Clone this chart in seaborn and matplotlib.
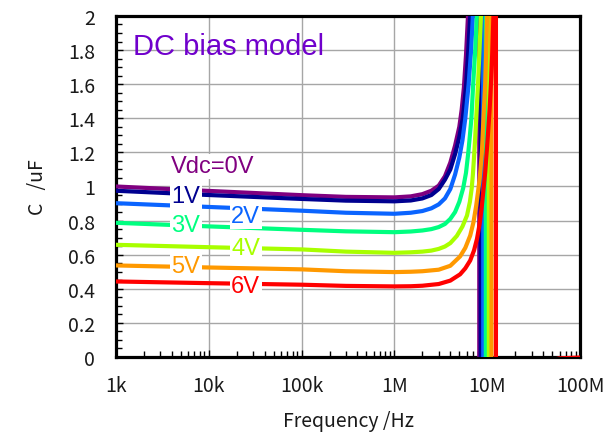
import pandas as pd
import seaborn as sns
import matplotlib.pyplot as plt
from matplotlib.ticker import MultipleLocator, LogLocator, NullFormatter, FuncFormatter

# 바이어스 전압별 곡선 (주파수 Hz, 용량 uF) - 그림에서 읽은 값
bias_labels = ['0V', '1V', '2V', '3V', '4V', '5V', '6V']
line_colors = ['#800080', '#000090', '#0A64FF', '#00FF80', '#A8FF00', '#FF9900', '#FF0000']

f_0v = [1e3, 1e4, 1e5, 3e5, 1e6, 1.5e6, 2e6, 2.5e6, 3e6, 3.5e6, 4e6, 4.5e6, 5e6, 5.3e6, 5.6e6, 5.9e6, 6.2e6, 6.45e6, 8.2e6, 8.2e6, 2e7, 1e8]
c_0v = [1.0, 0.974, 0.949, 0.939, 0.936, 0.942, 0.955, 0.975, 1.005, 1.06, 1.14, 1.24, 1.35, 1.45, 1.58, 1.77, 2.0, 2.3, 3.5, -3.0, -0.2, -0.03]

f_1v = [1e3, 1e4, 1e5, 3e5, 1e6, 1.5e6, 2e6, 2.5e6, 3e6, 3.5e6, 4e6, 4.5e6, 5e6, 5.45e6, 5.7e6, 5.92e6, 6.25e6, 6.55e6, 6.8e6, 8.5e6, 8.5e6, 2e7, 1e8]
c_1v = [0.975, 0.95, 0.927, 0.917, 0.913, 0.918, 0.93, 0.95, 0.985, 1.04, 1.10, 1.19, 1.29, 1.4, 1.5, 1.6, 1.8, 2.0, 2.3, 3.5, -3.0, -0.2, -0.03]

f_2v = [1e3, 1e4, 1e5, 3e5, 1e6, 1.5e6, 2e6, 2.5e6, 3e6, 3.5e6, 4e6, 4.5e6, 5e6, 5.4e6, 5.8e6, 6.3e6, 6.7e6, 7.0e6, 7.3e6, 9.05e6, 9.05e6, 2e7, 1e8]
c_2v = [0.902, 0.88, 0.858, 0.846, 0.84, 0.846, 0.856, 0.872, 0.895, 0.93, 0.985, 1.07, 1.17, 1.27, 1.4, 1.6, 1.8, 2.0, 2.3, 3.5, -3.0, -0.2, -0.03]

f_3v = [1e3, 1e4, 1e5, 3e5, 1e6, 1.5e6, 2e6, 2.5e6, 3e6, 3.5e6, 4e6, 4.5e6, 5e6, 5.5e6, 5.9e6, 6.25e6, 6.5e6, 6.75e6, 7.05e6, 7.42e6, 7.72e6, 7.95e6, 9.65e6, 9.65e6, 2e7, 1e8]
c_3v = [0.787, 0.766, 0.746, 0.737, 0.732, 0.736, 0.742, 0.75, 0.762, 0.78, 0.81, 0.85, 0.91, 0.99, 1.08, 1.2, 1.3, 1.4, 1.6, 1.8, 2.0, 2.3, 3.5, -3.0, -0.2, -0.03]

f_4v = [1e3, 1e4, 1e5, 3e5, 1e6, 1.5e6, 2e6, 2.5e6, 3e6, 3.5e6, 4e6, 4.7e6, 5.4e6, 6.05e6, 6.5e6, 6.8e6, 7.0e6, 7.2e6, 7.4e6, 7.6e6, 7.95e6, 8.25e6, 8.55e6, 8.8e6, 10.4e6, 10.4e6, 2e7, 1e8]
c_4v = [0.658, 0.644, 0.631, 0.618, 0.611, 0.614, 0.618, 0.624, 0.634, 0.648, 0.668, 0.71, 0.765, 0.83, 0.91, 0.99, 1.07, 1.17, 1.28, 1.4, 1.6, 1.8, 2.0, 2.3, 3.5, -3.0, -0.2, -0.03]

f_5v = [1e3, 1e4, 1e5, 3e5, 1e6, 1.5e6, 2e6, 3e6, 4e6, 5.1e6, 5.8e6, 6.55e6, 7.1e6, 7.6e6, 8.0e6, 8.3e6, 8.75e6, 9.1e6, 9.5e6, 9.75e6, 9.95e6, 10.3e6, 11.1e6, 11.1e6, 2e7, 1e8]
c_5v = [0.537, 0.525, 0.514, 0.503, 0.498, 0.5, 0.503, 0.512, 0.535, 0.59, 0.64, 0.712, 0.79, 0.888, 0.98, 1.05, 1.2, 1.4, 1.6, 1.8, 2.0, 2.3, 3.5, -3.0, -0.2, -0.03]

f_6v = [1e3, 1e4, 1e5, 3e5, 1e6, 1.5e6, 2e6, 3e6, 4e6, 5.1e6, 5.8e6, 6.55e6, 7.2e6, 7.75e6, 8.3e6, 8.75e6, 9.1e6, 9.5e6, 10.1e6, 10.6e6, 11.0e6, 11.35e6, 11.65e6, 11.9e6, 12.4e6, 12.4e6, 2e7, 4e7, 6e7, 1e8]
c_6v = [0.443, 0.433, 0.424, 0.417, 0.414, 0.415, 0.418, 0.428, 0.448, 0.485, 0.52, 0.566, 0.625, 0.693, 0.785, 0.888, 0.98, 1.083, 1.28, 1.45, 1.62, 1.8, 2.0, 2.3, 3.5, -3.0, -0.2, -0.03, -0.008, -0.003]

freqs = [f_0v, f_1v, f_2v, f_3v, f_4v, f_5v, f_6v]
caps = [c_0v, c_1v, c_2v, c_3v, c_4v, c_5v, c_6v]

# 곡선 라벨 위치
label_texts = ['Vdc=0V', '1V', '2V', '3V', '4V', '5V', '6V']
label_f = [10.9e3, 5.66e3, 25e3, 5.66e3, 25e3, 5.66e3, 25e3]
label_c = [1.118, 0.942, 0.825, 0.776, 0.638, 0.533, 0.416]

x_ticks = [1e3, 1e4, 1e5, 1e6, 1e7, 1e8]
x_ticklabels = ['1k', '10k', '100k', '1M', '10M', '100M']

frames = []
for name, f, c in zip(bias_labels, freqs, caps):
    frames.append(pd.DataFrame({'f': f, 'C': c, 'Vdc': name}))
df = pd.concat(frames, ignore_index=True)

sns.set_style('white')
plt.rcParams['font.family'] = ['Noto Sans CJK JP', 'DejaVu Sans']

fig, ax = plt.subplots(figsize=(6.1, 4.35), dpi=100)
fig.subplots_adjust(left=0.19, right=0.951, top=0.961, bottom=0.177)

sns.lineplot(data=df, x='f', y='C', hue='Vdc', hue_order=bias_labels,
             palette=dict(zip(bias_labels, line_colors)), sort=False,
             estimator=None, legend=False, linewidth=3, ax=ax, zorder=3)

ax.set_xscale('log')
ax.set_xlim(1e3, 1e8)
ax.set_ylim(0, 2)

ax.set_xticks(x_ticks)
ax.set_xticklabels(x_ticklabels)
ax.xaxis.set_minor_locator(LogLocator(base=10, subs=range(2, 10)))
ax.xaxis.set_minor_formatter(NullFormatter())
ax.yaxis.set_major_locator(MultipleLocator(0.2))
ax.yaxis.set_minor_locator(MultipleLocator(0.05))
ax.yaxis.set_major_formatter(FuncFormatter(lambda v, p: f'{v:g}'))

ax.tick_params(which='both', direction='in', color='black', width=1,
               top=False, right=False, left=True, bottom=True, labelsize=14,
               labelcolor='#1a1a1a')
ax.tick_params(which='major', length=5)
ax.tick_params(which='minor', length=4)
ax.tick_params(axis='x', pad=13)
ax.tick_params(axis='y', pad=15)

ax.grid(True, which='major', color='#a6a6a6', linewidth=1.0)
ax.set_axisbelow(True)
for sp in ax.spines.values():
    sp.set_visible(True)
    sp.set_color('black')
    sp.set_linewidth(2.3)

ax.set_xlabel('Frequency /Hz', fontsize=14, labelpad=10, color='#1a1a1a')
ax.set_ylabel('C   /uF', fontsize=14, labelpad=14, color='#1a1a1a')

for t, fx, cy, col in zip(label_texts, label_f, label_c, line_colors):
    ax.text(fx, cy, t, color=col, fontsize=17, family='Liberation Sans',
            ha='center', va='center', zorder=5,
            bbox=dict(facecolor='white', edgecolor='none', pad=1))

ax.text(0.037, 0.911, 'DC bias model', transform=ax.transAxes, fontsize=21,
        color='#7000CC', family='Liberation Sans', va='center', ha='left')

plt.savefig('out.png', dpi=100)
